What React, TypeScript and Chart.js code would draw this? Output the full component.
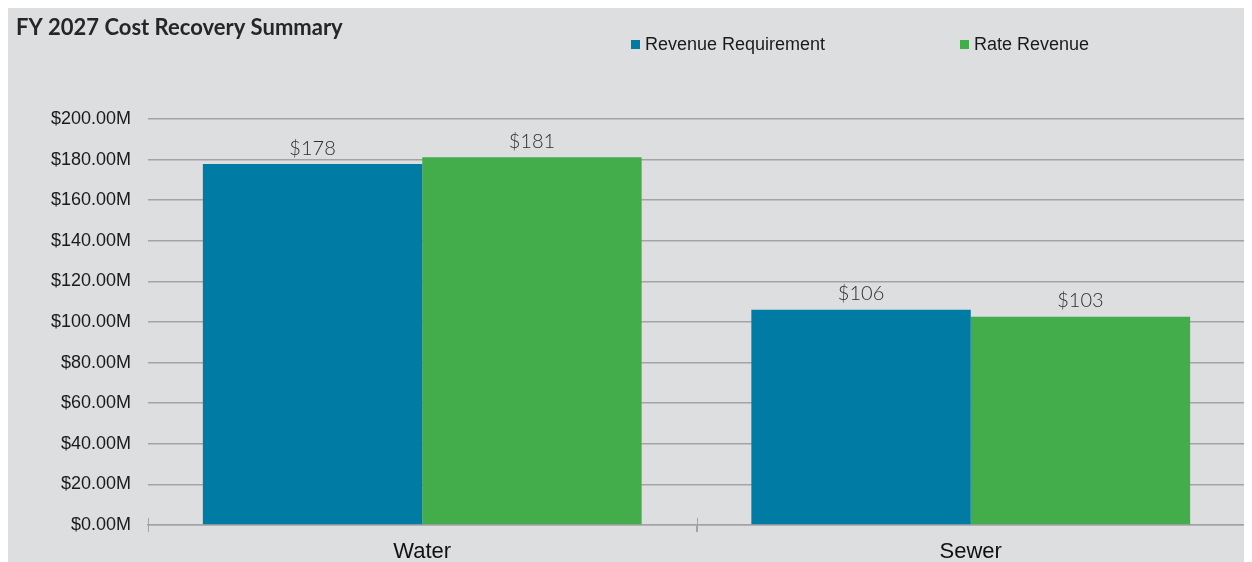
import React, { useEffect, useRef } from "react";
import { Chart, registerables } from "chart.js";

Chart.register(...registerables);

const TITLE = "FY 2027 Cost Recovery Summary";
const categories = ["Water", "Sewer"];
const seriesNames = ["Revenue Requirement", "Rate Revenue"];
const revenueRequirement = [177.8, 106.0];
const rateRevenue = [181.2, 102.6];
const seriesColors = ["#007ba4", "#43ad4b"];
const yMin = 0;
const yMax = 200;
const yStep = 20;

const overlayPlugin = {
  id: "overlay",
  afterDatasetsDraw(chart: any) {
    const ctx = chart.ctx;
    ctx.save();
    ctx.font = "300 20px Lato";
    ctx.fillStyle = "#2e2e2e";
    ctx.textAlign = "center";
    ctx.textBaseline = "bottom";
    chart.data.datasets.forEach((ds: any, i: number) => {
      const meta = chart.getDatasetMeta(i);
      meta.data.forEach((bar: any, j: number) => {
        const v = ds.data[j];
        ctx.fillText("$" + Math.round(v), bar.x, bar.y - 6);
      });
    });
    // upward half of the cross tick marks on the category axis
    const xs = chart.scales.x;
    const area = chart.chartArea;
    const n = chart.data.labels.length;
    ctx.strokeStyle = "#a3a3a3";
    ctx.lineWidth = 1;
    for (let i = 0; i <= n; i++) {
      const x = Math.min(Math.round(xs.left + (i * (xs.right - xs.left)) / n), xs.right - 1) + 0.5;
      ctx.beginPath();
      ctx.moveTo(x, area.bottom - 7);
      ctx.lineTo(x, area.bottom + 7);
      ctx.stroke();
    }
    ctx.restore();
  },
  afterDraw(chart: any) {
    const ctx = chart.ctx;
    ctx.save();
    // title
    ctx.font = "bold 22px Lato";
    ctx.fillStyle = "#262626";
    ctx.textAlign = "left";
    ctx.textBaseline = "alphabetic";
    ctx.fillText(TITLE, 8, 28);
    // legend
    const legendX = [623, 952];
    ctx.font = "18px 'Liberation Sans'";
    ctx.textBaseline = "middle";
    chart.data.datasets.forEach((ds: any, i: number) => {
      const x = legendX[i];
      ctx.fillStyle = ds.backgroundColor;
      ctx.fillRect(x, 33, 9, 9);
      ctx.fillStyle = "#1a1a1a";
      ctx.fillText(ds.label, x + 14, 38);
    });
    ctx.restore();
  },
};

export default function App() {
  const ref = useRef<HTMLCanvasElement | null>(null);
  useEffect(() => {
    if (!ref.current) return;
    const chart = new Chart(ref.current, {
      type: "bar",
      data: {
        labels: categories,
        datasets: [
          {
            label: seriesNames[0],
            data: revenueRequirement,
            backgroundColor: seriesColors[0],
            categoryPercentage: 0.8,
            barPercentage: 1.0,
          },
          {
            label: seriesNames[1],
            data: rateRevenue,
            backgroundColor: seriesColors[1],
            categoryPercentage: 0.8,
            barPercentage: 1.0,
          },
        ],
      },
      options: {
        animation: false,
        responsive: true,
        maintainAspectRatio: false,
        layout: { padding: { top: 112, right: 5, left: 0, bottom: 0 } },
        plugins: {
          legend: { display: false },
          title: { display: false },
          tooltip: { enabled: false },
        },
        scales: {
          x: {
            type: "category",
            offset: true,
            grid: {
              display: true,
              offset: true,
              drawOnChartArea: false,
              drawTicks: true,
              tickLength: 7,
              color: "#a3a3a3",
            },
            border: { display: true, color: "#a3a3a3", width: 1.5 },
            ticks: {
              font: { family: "'Liberation Sans'", size: 22 },
              color: "#111111",
              padding: 7,
            },
            afterFit: (scale: any) => {
              scale.height = 37;
            },
          },
          y: {
            min: yMin,
            max: yMax,
            ticks: {
              stepSize: yStep,
              padding: 17,
              font: { family: "'Liberation Sans'", size: 18 },
              color: "#1a1a1a",
              callback: (v: any) => "$" + Number(v).toFixed(2) + "M",
            },
            grid: { color: "#a3a3a3", drawTicks: false, lineWidth: 1.5 },
            border: { display: false },
            afterFit: (scale: any) => {
              scale.width = 140;
            },
          },
        },
      },
      plugins: [overlayPlugin],
    });
    return () => chart.destroy();
  }, []);
  return (
    <div
      style={{
        width: 1242,
        height: 555,
        marginTop: -1,
        background: "#dcdee0",
        position: "relative",
      }}
    >
      <canvas ref={ref} />
    </div>
  );
}
